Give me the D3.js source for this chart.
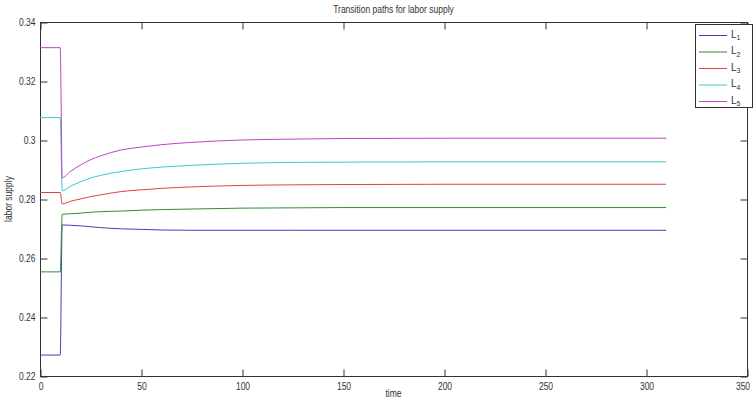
<!DOCTYPE html>
<html><head><meta charset="utf-8">
<script src="https://cdn.jsdelivr.net/npm/d3@7"></script>
<style>
body{margin:0;background:#fff;}
svg text{font-family:"Liberation Sans",Arial,sans-serif;fill:#333;}
</style></head>
<body><svg id="c" width="754" height="400"></svg>
<script>
const times = [0,10,11,15,20,25,30,40,50,60,75,100,125,150,200,250,310];
const L1 = [0.2271,0.2271,0.2712,0.2711,0.2709,0.2706,0.2703,0.2699,0.2697,0.2695,0.2694,0.2694,0.2694,0.2694,0.2694,0.2694,0.2694];
const L2 = [0.2553,0.2553,0.2748,0.2750,0.2752,0.2755,0.2757,0.2759,0.2762,0.2764,0.2766,0.2769,0.2770,0.2771,0.2771,0.2771,0.2771];
const L3 = [0.2822,0.2822,0.2783,0.2792,0.2800,0.2808,0.2814,0.2825,0.2831,0.2836,0.2841,0.2846,0.2848,0.2849,0.2850,0.2850,0.2850];
const L4 = [0.3076,0.3076,0.2828,0.2843,0.2858,0.2871,0.2880,0.2893,0.2902,0.2908,0.2914,0.2921,0.2924,0.2925,0.2926,0.2926,0.2926];
const L5 = [0.3313,0.3313,0.2872,0.2893,0.2915,0.2933,0.2946,0.2966,0.2976,0.2984,0.2992,0.3000,0.3003,0.3005,0.3006,0.3006,0.3006];
const seriesNames = ["1","2","3","4","5"];
const seriesColors = ["#4040b4","#2f8f2f","#e04040","#40c8c8","#c040c8"];
const xTicks = [0,50,100,150,200,250,300,350];
const yTicks = [0.22,0.24,0.26,0.28,0.30,0.32,0.34];
const yTickLabels = ["0.22","0.24","0.26","0.28","0.3","0.32","0.34"];

const svg = d3.select("#c");
const m = {l:40, r:747, t:22, b:376};
const x = d3.scaleLinear().domain([0,350]).range([m.l, m.r]);
const y = d3.scaleLinear().domain([0.22,0.34]).range([m.b, m.t]);
const tickLen = 7;
const squeeze = sel => sel.each(function(){
  const w = this.getComputedTextLength();
  if (w > 0) d3.select(this).attr("textLength", w*0.85).attr("lengthAdjust","spacingAndGlyphs");
});

// box
svg.append("rect").attr("x",m.l+0.5).attr("y",m.t+0.5).attr("width",m.r-m.l).attr("height",m.b-m.t)
  .attr("fill","none").attr("stroke","#333").attr("stroke-width",1);

// axes
const fmtY = d=>yTickLabels[yTicks.indexOf(d)];
const xb = svg.append("g").attr("transform",`translate(0.5,${m.b+0.5})`)
  .call(d3.axisBottom(x).tickValues(xTicks).tickSize(-tickLen).tickPadding(6).tickFormat(d3.format("d")));
const xt = svg.append("g").attr("transform",`translate(0.5,${m.t+0.5})`)
  .call(d3.axisTop(x).tickValues(xTicks).tickSize(-tickLen).tickFormat(""));
const yl = svg.append("g").attr("transform",`translate(${m.l+0.5},0.5)`)
  .call(d3.axisLeft(y).tickValues(yTicks).tickSize(-tickLen).tickPadding(5).tickFormat(fmtY));
const yr = svg.append("g").attr("transform",`translate(${m.r+0.5},0.5)`)
  .call(d3.axisRight(y).tickValues(yTicks).tickSize(-tickLen).tickFormat(""));
[xb,xt,yl,yr].forEach(g=>{
  g.select(".domain").remove();
  g.selectAll(".tick line").attr("stroke","#333");
  g.selectAll(".tick text").attr("font-size",10).attr("fill","#333")
   .style("font-family",'"Liberation Sans",Arial,sans-serif').call(squeeze);
});
xb.selectAll(".tick text").filter(d=>d===350).attr("dx",-5);

// lines
const allSeries = [L1,L2,L3,L4,L5];
const line = d3.line().x((d,i)=>x(times[i])).y(d=>y(d)).curve(d3.curveMonotoneX);
allSeries.forEach((s,k)=>{
  svg.append("path").datum(s).attr("d",line).attr("fill","none")
    .attr("stroke",seriesColors[k]).attr("stroke-width",1);
});

// title and labels
svg.append("text").attr("x",(m.l+m.r)/2).attr("y",13).attr("text-anchor","middle")
  .attr("font-size",10).text("Transition paths for labor supply").call(squeeze);
svg.append("text").attr("x",(m.l+m.r)/2).attr("y",397).attr("text-anchor","middle")
  .attr("font-size",10).text("time").call(squeeze);
svg.append("text").attr("transform",`translate(12,${(m.t+m.b)/2}) rotate(-90)`).attr("text-anchor","middle")
  .attr("font-size",10).text("labor supply").call(squeeze);

// legend
const lg = svg.append("g");
lg.append("rect").attr("x",695.5).attr("y",24.5).attr("width",57).attr("height",83)
  .attr("fill","#fff").attr("stroke","#333");
seriesNames.forEach((n,k)=>{
  const ly = 35 + k*16.5;
  lg.append("line").attr("x1",699).attr("x2",727).attr("y1",ly+0.5).attr("y2",ly+0.5)
    .attr("stroke",seriesColors[k]).attr("stroke-width",1);
  const t = lg.append("text").attr("x",731).attr("y",ly+2.5).attr("font-size",10);
  t.append("tspan").text("L");
  t.append("tspan").attr("font-size",7).attr("dy",2.5).text(n);
});
</script></body></html>
